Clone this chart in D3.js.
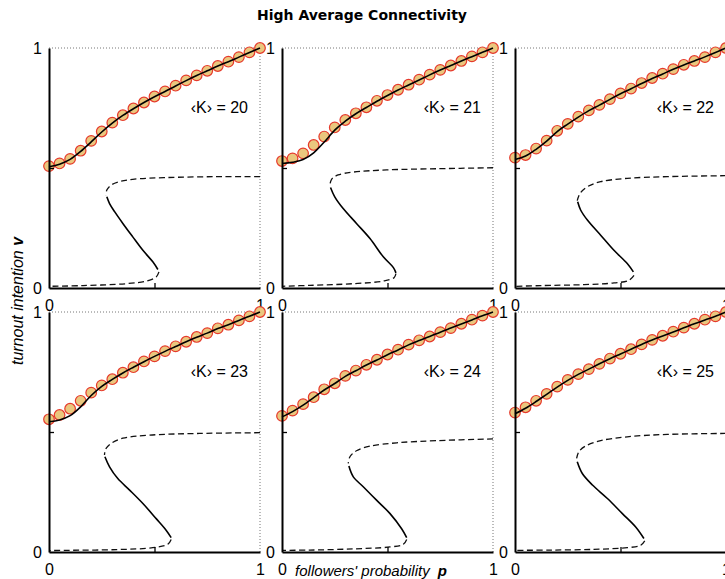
<!DOCTYPE html>
<html>
<head>
<meta charset="utf-8">
<script src="https://cdn.jsdelivr.net/npm/d3@7"></script>
<style>
  body { margin: 0; background: #fff; }
  text { font-family: "Liberation Sans", Arial, sans-serif; }
</style>
</head>
<body>
<div id="chart"></div>
<script>
// average degree of each panel
const kValues = [20, 21, 22, 23, 24, 25];

// followers' probability grid of the simulations
const pGrid = [0, 0.05, 0.1, 0.15, 0.2, 0.25, 0.3, 0.35, 0.4, 0.45, 0.5,
               0.55, 0.6, 0.65, 0.7, 0.75, 0.8, 0.85, 0.9, 0.95, 1];

// simulated turnout (circles), one row per panel
const simTurnout = [
  [0.508, 0.519, 0.538, 0.572, 0.613, 0.652, 0.689, 0.720, 0.748, 0.773, 0.798, 0.819, 0.843, 0.865, 0.886, 0.905, 0.925, 0.943, 0.962, 0.982, 1.0],
  [0.529, 0.540, 0.561, 0.596, 0.631, 0.669, 0.700, 0.728, 0.753, 0.780, 0.804, 0.826, 0.847, 0.868, 0.889, 0.909, 0.927, 0.946, 0.965, 0.982, 1.0],
  [0.543, 0.554, 0.581, 0.614, 0.655, 0.684, 0.714, 0.740, 0.763, 0.787, 0.811, 0.831, 0.854, 0.875, 0.893, 0.912, 0.930, 0.946, 0.962, 0.982, 1.0],
  [0.553, 0.571, 0.597, 0.630, 0.664, 0.694, 0.720, 0.747, 0.770, 0.794, 0.815, 0.837, 0.857, 0.876, 0.896, 0.912, 0.932, 0.947, 0.965, 0.982, 1.0],
  [0.567, 0.589, 0.616, 0.645, 0.678, 0.703, 0.734, 0.756, 0.780, 0.801, 0.823, 0.843, 0.864, 0.882, 0.898, 0.916, 0.933, 0.951, 0.968, 0.985, 1.0],
  [0.581, 0.603, 0.630, 0.659, 0.689, 0.717, 0.741, 0.762, 0.784, 0.806, 0.826, 0.845, 0.865, 0.884, 0.901, 0.918, 0.935, 0.951, 0.968, 0.982, 1.0]
];

// mean-field stable upper branch (solid line)
const meanFieldTurnout = [
  [0.505, 0.516, 0.536, 0.569, 0.609, 0.650, 0.687, 0.719, 0.747, 0.773, 0.797, 0.819, 0.842, 0.864, 0.885, 0.905, 0.925, 0.943, 0.962, 0.981, 1.0],
  [0.519, 0.524, 0.535, 0.563, 0.608, 0.658, 0.695, 0.726, 0.752, 0.778, 0.802, 0.825, 0.846, 0.867, 0.888, 0.908, 0.927, 0.946, 0.964, 0.982, 1.0],
  [0.535, 0.550, 0.578, 0.612, 0.652, 0.683, 0.712, 0.739, 0.762, 0.786, 0.809, 0.830, 0.852, 0.873, 0.892, 0.911, 0.929, 0.946, 0.963, 0.981, 1.0],
  [0.543, 0.550, 0.568, 0.605, 0.652, 0.690, 0.719, 0.746, 0.770, 0.793, 0.815, 0.836, 0.856, 0.876, 0.895, 0.912, 0.931, 0.947, 0.965, 0.982, 1.0],
  [0.563, 0.585, 0.612, 0.643, 0.675, 0.702, 0.732, 0.755, 0.779, 0.800, 0.822, 0.842, 0.863, 0.881, 0.898, 0.916, 0.933, 0.950, 0.967, 0.984, 1.0],
  [0.576, 0.599, 0.627, 0.657, 0.687, 0.715, 0.740, 0.762, 0.784, 0.805, 0.825, 0.845, 0.865, 0.883, 0.900, 0.917, 0.934, 0.951, 0.967, 0.982, 1.0]
];

// unstable upper part of the S curve [p, v], from p = 1 to the fold
const unstableUpper = [
  [[1, 0.464], [0.792, 0.464], [0.555, 0.460], [0.397, 0.453], [0.334, 0.443], [0.295, 0.429], [0.274, 0.408], [0.271, 0.387]],
  [[1, 0.501], [0.734, 0.497], [0.496, 0.492], [0.338, 0.483], [0.266, 0.471], [0.235, 0.453], [0.227, 0.429]],
  [[1, 0.468], [0.722, 0.464], [0.532, 0.457], [0.406, 0.443], [0.343, 0.422], [0.308, 0.394], [0.295, 0.364]],
  [[1, 0.497], [0.713, 0.494], [0.476, 0.487], [0.350, 0.474], [0.295, 0.453], [0.268, 0.428], [0.263, 0.404]],
  [[1, 0.471], [0.734, 0.464], [0.544, 0.455], [0.417, 0.441], [0.353, 0.422], [0.322, 0.397], [0.314, 0.369]],
  [[1, 0.494], [0.722, 0.490], [0.532, 0.480], [0.406, 0.464], [0.335, 0.442], [0.303, 0.418], [0.292, 0.390]]
];

// stable middle part of the S curve (solid)
const stableMiddle = [
  [[0.274, 0.380], [0.287, 0.352], [0.311, 0.318], [0.350, 0.269], [0.397, 0.213], [0.445, 0.157], [0.492, 0.109], [0.516, 0.077]],
  [[0.230, 0.419], [0.250, 0.380], [0.290, 0.331], [0.353, 0.269], [0.417, 0.206], [0.480, 0.130], [0.528, 0.085], [0.540, 0.063]],
  [[0.297, 0.359], [0.311, 0.325], [0.343, 0.283], [0.406, 0.220], [0.469, 0.157], [0.532, 0.102], [0.561, 0.067]],
  [[0.265, 0.397], [0.287, 0.355], [0.326, 0.306], [0.382, 0.258], [0.445, 0.202], [0.508, 0.139], [0.555, 0.091], [0.579, 0.060]],
  [[0.317, 0.358], [0.338, 0.313], [0.385, 0.272], [0.448, 0.216], [0.512, 0.160], [0.567, 0.097], [0.591, 0.060]],
  [[0.295, 0.376], [0.319, 0.327], [0.367, 0.279], [0.438, 0.223], [0.509, 0.160], [0.572, 0.104], [0.611, 0.056]]
];

// unstable lower part of the S curve, from the lower fold to p = 0
const unstableLower = [
  [[0.521, 0.067], [0.508, 0.046], [0.461, 0.029], [0.366, 0.018], [0.161, 0.010], [0, 0.007]],
  [[0.540, 0.060], [0.531, 0.043], [0.480, 0.029], [0.338, 0.018], [0.132, 0.011], [0, 0.007]],
  [[0.564, 0.053], [0.540, 0.032], [0.469, 0.021], [0.327, 0.014], [0.122, 0.010], [0, 0.007]],
  [[0.579, 0.052], [0.563, 0.032], [0.492, 0.018], [0.319, 0.010], [0.082, 0.007], [0, 0.006]],
  [[0.591, 0.052], [0.575, 0.032], [0.512, 0.021], [0.338, 0.013], [0.132, 0.008], [0, 0.007]],
  [[0.615, 0.046], [0.596, 0.028], [0.532, 0.018], [0.374, 0.011], [0.169, 0.008], [0, 0.007]]
];

const tickValues = [0, 0.5, 1];

const W = 725, H = 579;
const panelW = 211, panelH = 240;
const lefts = [49, 282, 515], tops = [48, 312];

const svg = d3.select("#chart").append("svg")
  .attr("width", W).attr("height", H);

svg.append("text")
  .attr("x", 362).attr("y", 20)
  .attr("text-anchor", "middle")
  .style("font-family", "'DejaVu Sans', sans-serif")
  .style("font-size", "14px")
  .style("font-weight", "bold")
  .text("High Average Connectivity");

kValues.forEach(function(k, i) {
  let col = i % 3, row = Math.floor(i / 3);
  let x = d3.scaleLinear().domain([0, 1]).range([0, panelW]);
  let y = d3.scaleLinear().domain([0, 1]).range([panelH, 0]);

  let g = svg.append("g")
    .attr("transform", "translate(" + lefts[col] + "," + tops[row] + ")");

  // dotted frame on top and right
  g.append("path")
    .attr("d", "M" + x(0) + "," + y(1) + "H" + x(1) + "V" + y(0))
    .attr("fill", "none")
    .attr("stroke", "#777")
    .attr("stroke-width", 1)
    .attr("stroke-dasharray", "1,2");

  // S curve
  let sLine = d3.line()
    .x(function(d) { return x(d[0]); })
    .y(function(d) { return y(d[1]); })
    .curve(d3.curveCatmullRom.alpha(0.5));

  g.append("path").datum(unstableUpper[i])
    .attr("d", sLine).attr("fill", "none")
    .attr("stroke", "#111").attr("stroke-width", 1.3)
    .attr("stroke-dasharray", "6,3.5");
  g.append("path").datum(unstableLower[i])
    .attr("d", sLine).attr("fill", "none")
    .attr("stroke", "#111").attr("stroke-width", 1.3)
    .attr("stroke-dasharray", "6,3.5");
  g.append("path").datum(stableMiddle[i])
    .attr("d", sLine).attr("fill", "none")
    .attr("stroke", "#000").attr("stroke-width", 1.6);

  // simulations
  g.selectAll(".sim")
    .data(pGrid)
    .enter().append("circle")
    .attr("class", "sim")
    .attr("cx", function(d) { return x(d); })
    .attr("cy", function(d, j) { return y(simTurnout[i][j]); })
    .attr("r", 5.3)
    .attr("fill", "#eac77e")
    .attr("stroke", "#e63a2c")
    .attr("stroke-width", 1.2);

  // mean-field upper branch
  let upLine = d3.line()
    .x(function(d) { return x(d); })
    .y(function(d, j) { return y(meanFieldTurnout[i][j]); })
    .curve(d3.curveMonotoneX);
  g.append("path").datum(pGrid)
    .attr("d", upLine).attr("fill", "none")
    .attr("stroke", "#000").attr("stroke-width", 1.6);

  // axes
  let fmt = function(d) { return d === 0.5 ? "" : d3.format("d")(d); };
  let yAxis = g.append("g")
    .call(d3.axisLeft(y).tickValues(tickValues).tickSizeInner(-5).tickSizeOuter(0).tickPadding(7).tickFormat(fmt));
  let xAxis = g.append("g")
    .attr("transform", "translate(0," + panelH + ")")
    .call(d3.axisBottom(x).tickValues(tickValues).tickSizeInner(-5).tickSizeOuter(0).tickPadding(12).tickFormat(fmt));

  [yAxis, xAxis].forEach(function(a) {
    a.select(".domain").attr("stroke", "#000").attr("stroke-width", 2);
    a.selectAll(".tick line").attr("stroke", "#000").attr("stroke-width", 1.3)
      .filter(function(d) { return d !== 0.5; }).remove();
    a.selectAll(".tick text").style("font-family", "'Liberation Sans', Arial, sans-serif")
      .style("font-size", "16px").attr("fill", "#000");
  });

  g.append("text")
    .attr("x", panelW - 12)
    .attr("y", 65)
    .attr("text-anchor", "end")
    .style("font-size", "16px")
    .text("\u2039K\u203A = " + k);
});

// axis titles
let yl = svg.append("text")
  .attr("transform", "translate(23,301) rotate(-90)")
  .attr("text-anchor", "middle")
  .style("font-size", "16px")
  .style("font-style", "italic");
yl.append("tspan").text("turnout intention ");
yl.append("tspan").style("font-weight", "bold").text("v");

let xl = svg.append("text")
  .attr("x", 371).attr("y", 576)
  .attr("text-anchor", "middle")
  .style("font-size", "15px")
  .style("font-style", "italic");
xl.append("tspan").text("followers' probability");
xl.append("tspan").attr("dx", 8).style("font-weight", "bold").text("p");
</script>
</body>
</html>
